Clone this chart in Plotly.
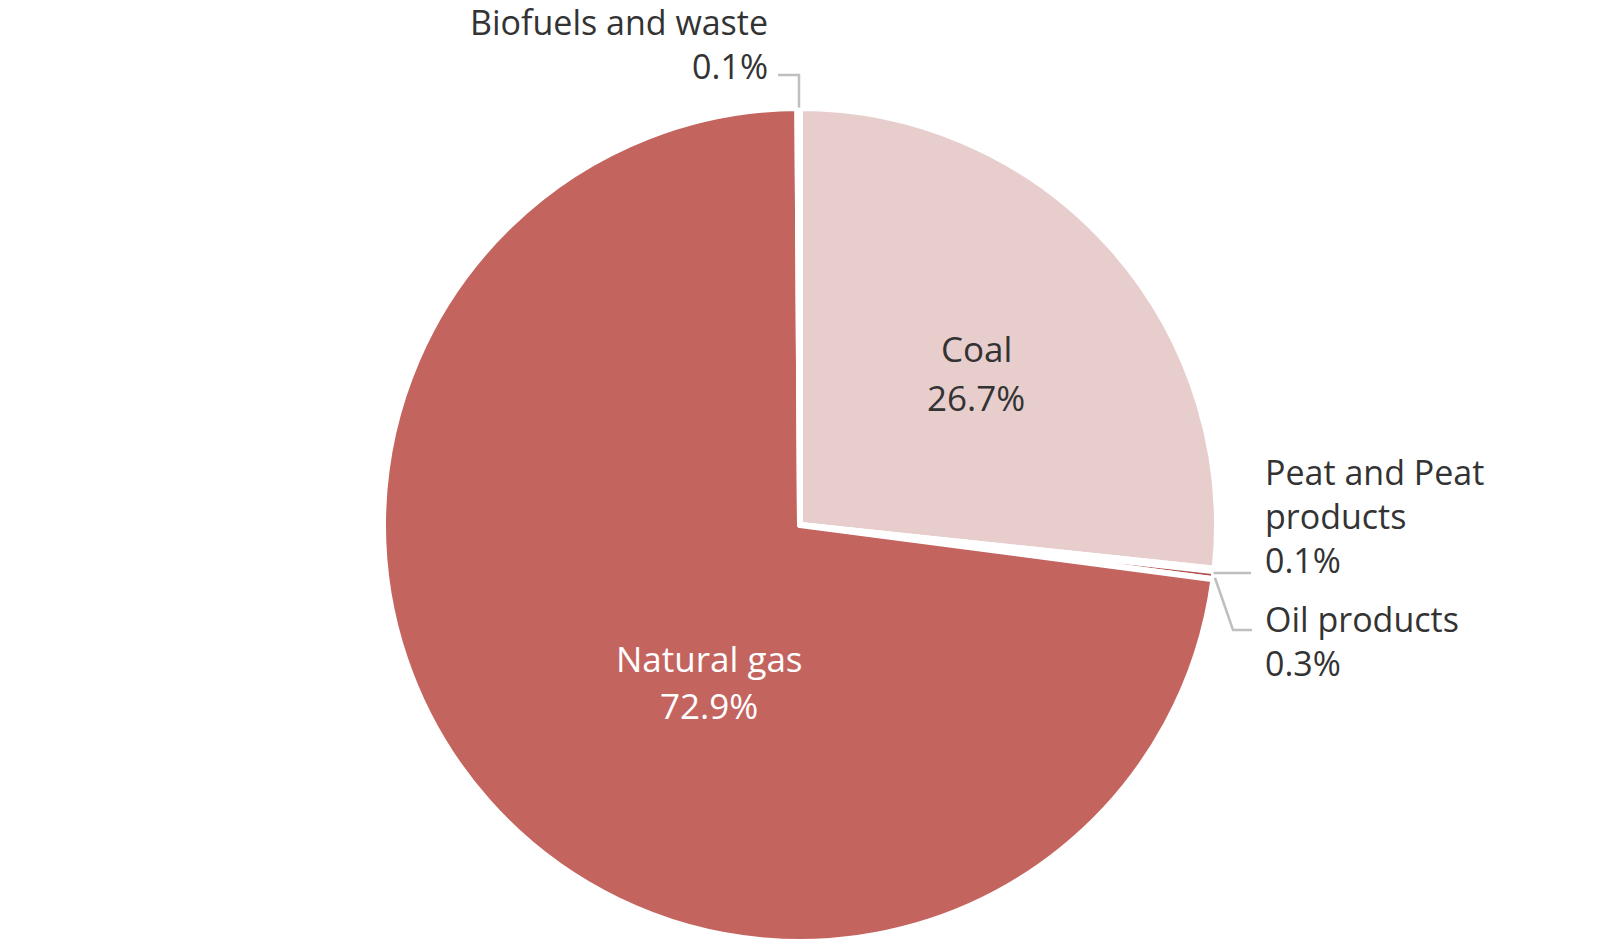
import plotly.graph_objects as go
import math

labels = ["Coal", "Peat and Peat products", "Oil products", "Natural gas", "Biofuels and waste"]
values = [26.7, 0.1, 0.3, 72.9, 0.1]
colors = ["#E8CDCD", "#9E4A47", "#B0504C", "#C4645F", "#D9A3A1"]

W, H = 1600, 947
top, bottom = 100, 934
left_w = 1584
cx = 791
r = 414
cy = 516.5

fig = go.Figure(go.Pie(
    labels=labels, values=values, sort=False, direction="clockwise", rotation=0,
    marker=dict(colors=colors, line=dict(color="white", width=6)),
    textinfo="none", hoverinfo="label+percent", showlegend=False,
    domain=dict(x=[0, left_w / W], y=[1 - bottom / H, 1 - top / H]),
))

def px(x):
    return x / W

def py(y):
    return 1 - y / H

total = sum(values)
cum = 0
mid = []
for v in values:
    a = (cum + v / 2) / total * 2 * math.pi
    mid.append(a)
    cum += v

def edge(i, rr=r):
    a = mid[i]
    return cx + rr * math.sin(a), cy - rr * math.cos(a)

font = "Open Sans, Lato, sans-serif"
fs = 35
fs_out = 34
dark = "#333333"

def pct(v):
    return f"{v:.1f}%"

anns = []

def label(text, x, y, xanchor, color=dark, size=fs, align="center"):
    anns.append(dict(x=px(x), y=py(y), xref="paper", yref="paper", showarrow=False,
                     xanchor=xanchor, yanchor="middle", text=text, align=align,
                     font=dict(family=font, size=size, color=color)))

# inside labels (one line each, Excel-like wider spacing)
label(labels[0], 968, 340, "center")
label(pct(values[0]), 968, 389, "center")
label(labels[3], 701, 650, "center", "white")
label(pct(values[3]), 701, 697, "center", "white")
# outside labels
label(f"{labels[4]}<br>{pct(values[4])}", 762, 36, "right", size=fs_out, align="right")
label("Peat and Peat<br>products<br>" + pct(values[1]), 1255, 508, "left", size=fs_out, align="left")
label(f"{labels[2]}<br>{pct(values[2])}", 1255, 633, "left", size=fs_out, align="left")

shapes = []
lc = dict(color="#BFBFBF", width=2.5)

def path(pts):
    d = "M " + " L ".join(f"{px(x)} {py(y)}" for x, y in pts)
    return dict(type="path", path=d, xref="paper", yref="paper", line=lc)

# Biofuels
bx, by = edge(4, r + 3)
shapes.append(path([(791, by), (791, 67), (770, 67)]))
# Peat
pxx, pyy = edge(1, r + 3)
shapes.append(path([(pxx, 565), (1243, 565)]))
# Oil
ox, oy = edge(2, r + 3)
shapes.append(path([(ox + 2, oy + 3), (1225, 622), (1244, 622)]))

fig.update_layout(
    width=W, height=H, margin=dict(l=0, r=0, t=0, b=0),
    paper_bgcolor="white", plot_bgcolor="white",
    annotations=anns, shapes=shapes,
)
fig.write_html("out.html")
